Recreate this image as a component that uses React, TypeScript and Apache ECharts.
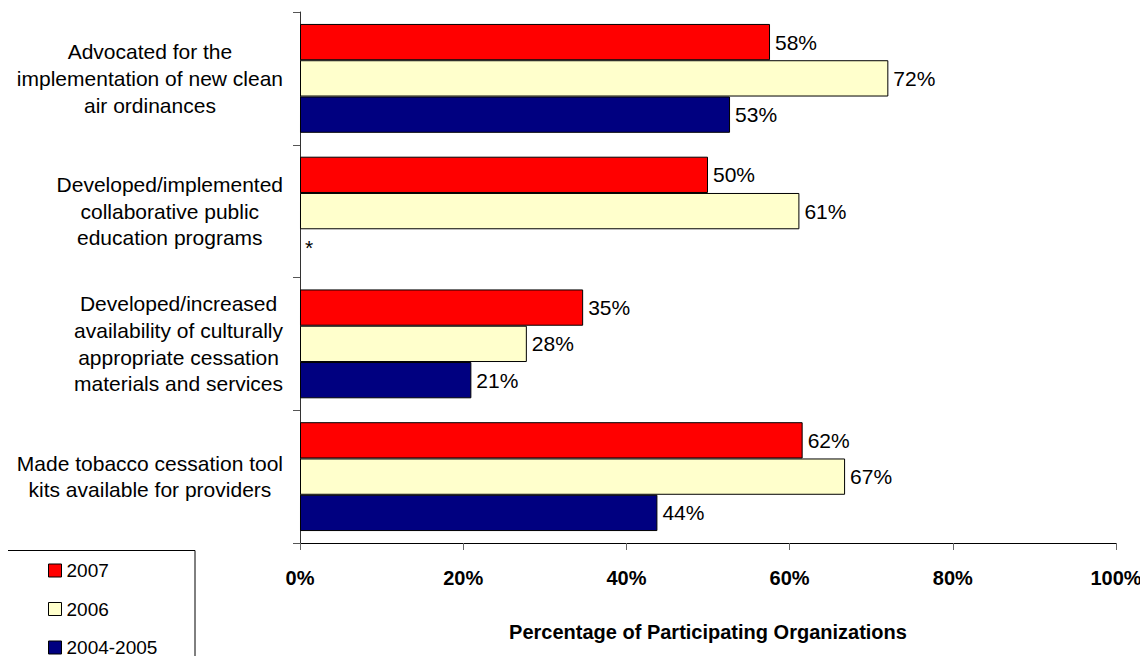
import React, { useEffect, useRef } from "react";
import * as echarts from "echarts";

const categories: string[] = [
  "Advocated for the\nimplementation of new clean\nair ordinances",
  "Developed/implemented\ncollaborative public\neducation programs",
  "Developed/increased\navailability of culturally\nappropriate cessation\nmaterials and services",
  "Made tobacco cessation tool\nkits available for providers",
];

const seriesNames: string[] = ["2007", "2006", "2004-2005"];
const values2007: (number | null)[] = [57.6, 50.0, 34.7, 61.6];
const values2006: (number | null)[] = [72.1, 61.2, 27.8, 66.8];
const values2004: (number | null)[] = [52.7, null, 21.0, 43.8];
const seriesColors: string[] = ["#FF0000", "#FFFFCC", "#000080"];
const missingMark = "*";

const xTicks = { min: 0, max: 100, interval: 20 };
const xAxisTitle = "Percentage of Participating Organizations";

const FONT = "'Liberation Sans', Arial, sans-serif";

function buildData(vals: (number | null)[]) {
  return vals.map((v) =>
    v === null
      ? {
          value: 0,
          itemStyle: { borderWidth: 0 },
          label: { formatter: missingMark },
        }
      : v
  );
}

export default function App() {
  const ref = useRef<HTMLDivElement>(null);

  useEffect(() => {
    if (!ref.current) return;
    const chart = echarts.init(ref.current, undefined, { renderer: "svg" });
    const allValues = [values2007, values2006, values2004];

    const option: any = {
      animation: false,
      backgroundColor: "#ffffff",
      textStyle: { fontFamily: FONT },
      grid: { left: 300, right: 32, top: 12, bottom: 121, containLabel: false },
      legend: {
        orient: "vertical",
        left: 48,
        top: 561,
        padding: 0,
        itemWidth: 13,
        itemHeight: 13,
        itemGap: 19.5,
        icon: "rect",
        itemStyle: { borderColor: "#000", borderWidth: 1 },
        textStyle: { fontFamily: FONT, fontSize: 19, lineHeight: 19, color: "#000" },
        data: seriesNames,
      },
      graphic: [
        {
          type: "rect",
          shape: { x: 7.5, y: 550.5, width: 187.5, height: 140 },
          style: { fill: "none", stroke: "#000", lineWidth: 1 },
          silent: true,
        },
      ],
      xAxis: {
        type: "value",
        min: xTicks.min,
        max: xTicks.max,
        interval: xTicks.interval,
        name: xAxisTitle,
        nameLocation: "middle",
        nameGap: 79,
        nameTextStyle: { fontFamily: FONT, fontSize: 20, fontWeight: "bold", color: "#000" },
        axisLine: { show: true, lineStyle: { color: "#000", width: 1 } },
        axisTick: { show: true, length: 7, lineStyle: { color: "#666" } },
        axisLabel: {
          formatter: "{value}%",
          margin: 25,
          fontFamily: FONT,
          fontSize: 20,
          fontWeight: "bold",
          color: "#000",
        },
        splitLine: { show: false },
      },
      yAxis: {
        type: "category",
        inverse: true,
        data: categories,
        axisLine: { show: true, lineStyle: { color: "#333", width: 1 } },
        axisTick: { show: true, length: 7, lineStyle: { color: "#555" } },
        axisLabel: {
          margin: 17,
          align: "right",
          formatter: (val: string) =>
            val
              .split("\n")
              .map((l) => `{c|${l}}`)
              .join("\n"),
          rich: {
            c: {
              align: "center",
              fontFamily: FONT,
              fontSize: 21,
              lineHeight: 26.7,
              color: "#000",
            },
          },
        },
      },
      series: seriesNames.map((name, i) => ({
        name,
        type: "bar",
        data: buildData(allValues[i]),
        barGap: "0%",
        barCategoryGap: "18%",
        itemStyle: { color: seriesColors[i], borderColor: "#000", borderWidth: 1 },
        label: {
          show: true,
          position: "right",
          distance: 5,
          fontFamily: FONT,
          fontSize: 21,
          color: "#000",
          formatter: (p: any) => `${Math.round(p.value)}%`,
        },
      })),
    };

    chart.setOption(option);
    return () => chart.dispose();
  }, []);

  return <div ref={ref} style={{ width: 1148, height: 664, margin: -8 }} />;
}
